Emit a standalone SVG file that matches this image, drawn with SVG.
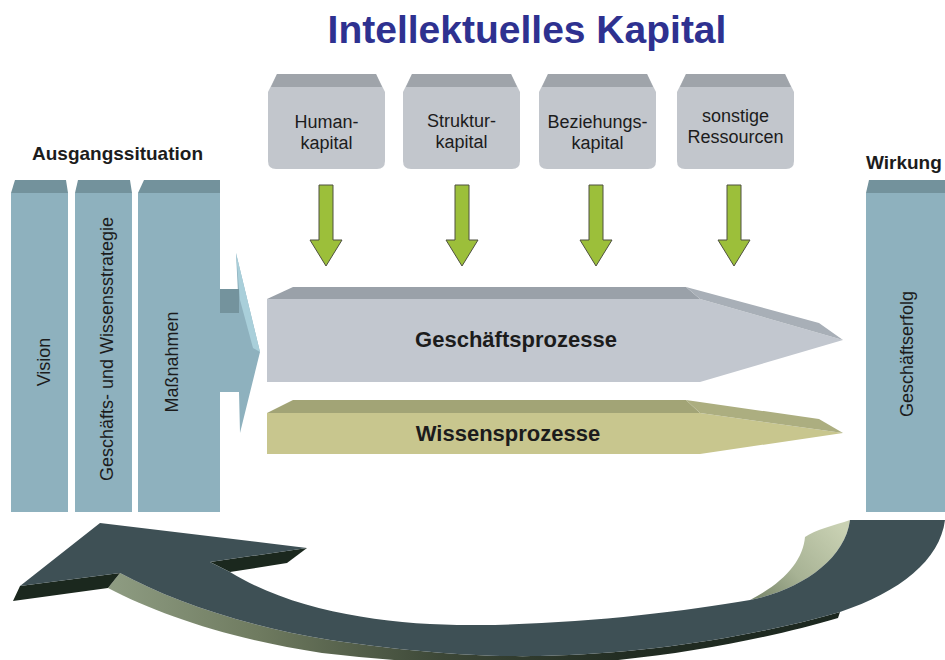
<svg xmlns="http://www.w3.org/2000/svg" width="945" height="660" viewBox="0 0 945 660">
<defs>
<style>
.t{font-family:"Liberation Sans",Arial,sans-serif;fill:#1c1c1c}
.b{font-weight:bold}
.box{fill:#c2c6cc}
.boxtop{fill:#9fa4aa}
.col{fill:#8eb1be}
.coltop{fill:#73929c}
.green{fill:#9cbf3a;stroke:#4f5140;stroke-width:1}
</style>
<path id="boxshape" d="M9,74 L108,74 L117,92 L117,161 Q117,169 109,169 L8,169 Q0,169 0,161 L0,92 Z"/>
<path id="boxbevel" d="M9,74 L108,74 L114,87 L3,87 Z"/>
<path id="garrow" d="M-7,185 L7,185 L7,240 L16,240 L0,266 L-16,240 L-7,240 Z"/>
<linearGradient id="sideg" gradientUnits="userSpaceOnUse" x1="110" y1="0" x2="850" y2="0">
<stop offset="0" stop-color="#8e9c82"/>
<stop offset="0.2" stop-color="#6f7b60"/>
<stop offset="0.45" stop-color="#3c4737"/>
<stop offset="0.7" stop-color="#212c22"/>
<stop offset="1" stop-color="#1c2820"/>
</linearGradient>
<linearGradient id="innerg" gradientUnits="userSpaceOnUse" x1="840" y1="525" x2="760" y2="600">
<stop offset="0" stop-color="#c9d1b3"/>
<stop offset="0.6" stop-color="#a7b294"/>
<stop offset="1" stop-color="#7c8a6e"/>
</linearGradient>
</defs>
<rect width="945" height="660" fill="#ffffff"/>
<text class="t b" x="527" y="43" font-size="39" text-anchor="middle" style="fill:#2e3190">Intellektuelles Kapital</text>
<text class="t b" x="32" y="160" font-size="19">Ausgangssituation</text>
<text class="t b" x="866" y="169" font-size="19">Wirkung</text>

<g id="human">
<use href="#boxshape" class="box" transform="translate(268,0)"/>
<use href="#boxbevel" class="boxtop" transform="translate(268,0)"/>
<text class="t" x="326.5" y="128" font-size="18" text-anchor="middle">Human-</text>
<text class="t" x="326.5" y="149" font-size="18" text-anchor="middle">kapital</text>
</g>
<g id="struktur">
<use href="#boxshape" class="box" transform="translate(403,0)"/>
<use href="#boxbevel" class="boxtop" transform="translate(403,0)"/>
<text class="t" x="461.5" y="127" font-size="18" text-anchor="middle">Struktur-</text>
<text class="t" x="461.5" y="148" font-size="18" text-anchor="middle">kapital</text>
</g>
<g id="beziehung">
<use href="#boxshape" class="box" transform="translate(539,0)"/>
<use href="#boxbevel" class="boxtop" transform="translate(539,0)"/>
<text class="t" x="597.5" y="128" font-size="18" text-anchor="middle">Beziehungs-</text>
<text class="t" x="597.5" y="149" font-size="18" text-anchor="middle">kapital</text>
</g>
<g id="sonstige">
<use href="#boxshape" class="box" transform="translate(677,0)"/>
<use href="#boxbevel" class="boxtop" transform="translate(677,0)"/>
<text class="t" x="735.5" y="122" font-size="18" text-anchor="middle">sonstige</text>
<text class="t" x="735.5" y="143" font-size="18" text-anchor="middle">Ressourcen</text>
</g>

<g id="vision">
<path class="col" d="M11,193 L68,193 L68,512 L11,512 Z"/>
<path class="coltop" d="M15,180 L66,180 L68,193 L11,193 Z"/>
<text class="t" font-size="18" text-anchor="middle" transform="translate(50,362) rotate(-90)">Vision</text>
</g>
<g id="strategie">
<path class="col" d="M75,193 L132,193 L132,512 L75,512 Z"/>
<path class="coltop" d="M78,180 L130,180 L132,193 L75,193 Z"/>
<text class="t" font-size="18" text-anchor="middle" transform="translate(113,349) rotate(-90)">Geschäfts- und Wissensstrategie</text>
</g>
<g id="massnahmen">
<path class="col" d="M138,193 L220,193 L220,512 L138,512 Z"/>
<path class="coltop" d="M144,180 L220,180 L220,193 L138,193 Z"/>
<text class="t" font-size="18" text-anchor="middle" transform="translate(178,362) rotate(-90)">Maßnahmen</text>
</g>
<g id="erfolg">
<path class="col" d="M866,193 L945,193 L945,512 L866,512 Z"/>
<path class="coltop" d="M869,180 L945,180 L945,193 L866,193 Z"/>
<text class="t" font-size="18" text-anchor="middle" transform="translate(913,354) rotate(-90)">Geschäftserfolg</text>
</g>

<g id="geschaeftsprozesse">
<path d="M267,299 L700,299 L843,340 L700,382 L267,382 Z" fill="#c2c7cf"/>
<path d="M267,299 L293,287 L686,287 L700,299 Z" fill="#9aa1a9"/>
<path d="M686,287 L819,323 L843,340 L700,299 Z" fill="#a8afb7"/>
<text class="t b" x="516" y="347" font-size="22" text-anchor="middle">Geschäftsprozesse</text>
</g>
<g id="wissensprozesse">
<path d="M267,413 L700,413 L843,433 L700,454 L267,454 Z" fill="#c8c68e"/>
<path d="M267,413 L293,400 L686,400 L700,413 Z" fill="#a2a476"/>
<path d="M686,400 L819,419 L843,433 L700,413 Z" fill="#acae80"/>
<text class="t b" x="508" y="441" font-size="22" text-anchor="middle">Wissensprozesse</text>
</g>

<g id="connectors">
<use href="#garrow" class="green" transform="translate(326,0)"/>
<use href="#garrow" class="green" transform="translate(462,0)"/>
<use href="#garrow" class="green" transform="translate(596,0)"/>
<use href="#garrow" class="green" transform="translate(734,0)"/>
<path class="col" d="M219,313 L239,313 L236,253 L260,352 L240,433 L239,392 L219,392 Z"/>
<path d="M236,253 L260,352 L253,348 L240,300 Z" fill="#a9cfda"/>
<rect x="220" y="289" width="19" height="24" fill="#74939d"/>
<path d="M120,573 C170,600 240,625 330,640 C420,653 480,657 540,656 C650,654 760,635 840,612 L838,618 C760,641 650,662 540,665 C480,666 410,663 322,653 C230,639 160,615 108,588 Z" fill="url(#sideg)"/>
<path d="M20,586 L120,573 L108,588 L13,601 Z" fill="#1b281e"/>
<path d="M307,548 L210,562 L230,572 L287,563 Z" fill="#1b281e"/>
<path d="M850,520 C835,525 815,530 805,537 C803,560 785,582 750,600 C800,590 845,560 850,520 Z" fill="url(#innerg)"/>
<path d="M100,523 L307,548 L210,562 L230,572 C300,615 400,626 480,625 C580,624 680,612 750,600 C800,590 845,560 850,520 L945,520 C940,560 900,592 840,612 C760,635 650,654 540,656 C480,657 420,653 330,640 C240,625 170,600 120,573 L20,586 Z" fill="#3e5055"/>
</g>
</svg>
